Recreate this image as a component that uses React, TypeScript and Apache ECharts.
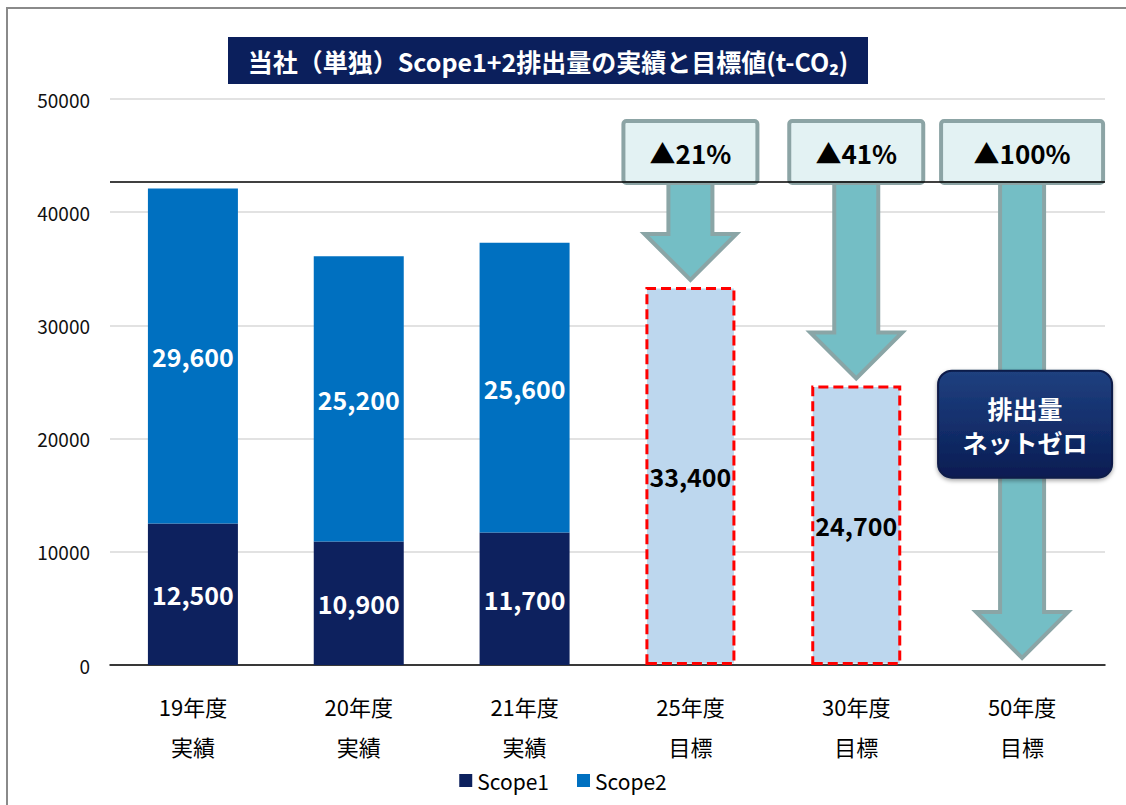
import React, { useEffect, useRef } from "react";
import * as echarts from "echarts";

const categories = ["19年度\n実績", "20年度\n実績", "21年度\n実績", "25年度\n目標", "30年度\n目標", "50年度\n目標"];
const scope1 = [12500, 10900, 11700, null, null, null];
const scope2 = [29600, 25200, 25600, null, null, null];
const targets = [null, null, null, 33400, 24700, null];
const reductionIndex = [3, 4, 5];
const reductionValue = [33400, 24700, 0];
const reductionLabels = ["▲21%", "▲41%", "▲100%"];
const referenceLine = 42700;
const yTicks = { min: 0, max: 50000, interval: 10000 };
const titleText = "当社（単独）Scope1+2排出量の実績と目標値(t-CO₂)";
const netZeroText = "排出量\nネットゼロ";

const FONT = "'Noto Sans CJK JP', 'Noto Sans', sans-serif";

export default function App() {
  const ref = useRef<HTMLDivElement>(null);
  useEffect(() => {
    if (!ref.current) return;
    const chart = echarts.init(ref.current, null, { renderer: "svg" });
    const fmt = (p: any) => (p.value == null ? "" : Number(p.value).toLocaleString("en-US"));
    const customData = reductionIndex.map((c, i) => [c, reductionValue[i], i]);
    chart.setOption({
      animation: false,
      textStyle: { fontFamily: FONT },
      grid: { left: 110, right: 21, top: 99, bottom: 140, containLabel: false },
      legend: {
        data: ["Scope1", "Scope2"],
        bottom: 9,
        left: "center",
        icon: "rect",
        itemWidth: 13,
        itemHeight: 13,
        itemGap: 28,
        textStyle: { fontSize: 21, color: "#000", fontFamily: FONT },
      },
      xAxis: {
        type: "category",
        data: categories,
        axisLine: { lineStyle: { color: "#000", width: 1.5 } },
        axisTick: { show: false },
        axisLabel: { fontSize: 22, lineHeight: 40, color: "#000", margin: 21, fontFamily: FONT },
      },
      yAxis: {
        type: "value",
        min: yTicks.min,
        max: yTicks.max,
        interval: yTicks.interval,
        axisLine: { show: false },
        axisTick: { show: false },
        axisLabel: { fontSize: 19, color: "#111", margin: 20, fontFamily: FONT, formatter: (v: number) => String(v) },
        splitLine: { lineStyle: { color: "#D9D9D9", width: 1.5 } },
      },
      series: [
        {
          name: "Scope1",
          type: "bar",
          stack: "total",
          barWidth: 90,
          data: scope1,
          itemStyle: { color: "#0D215E" },
          label: { show: true, position: "inside", color: "#fff", fontSize: 25, fontWeight: "bold", formatter: fmt, fontFamily: FONT },
          z: 2,
        },
        {
          name: "Scope2",
          type: "bar",
          stack: "total",
          barWidth: 90,
          data: scope2,
          itemStyle: { color: "#0070C0" },
          label: { show: true, position: "inside", color: "#fff", fontSize: 25, fontWeight: "bold", formatter: fmt, fontFamily: FONT },
          z: 2,
        },
        {
          name: "目標",
          type: "bar",
          stack: "total",
          barWidth: 90,
          data: targets,
          itemStyle: { color: "#BDD7EE", borderColor: "#FF0000", borderWidth: 3, borderType: [10, 5] },
          label: { show: true, position: "inside", color: "#000", fontSize: 25, fontWeight: "bold", formatter: fmt, fontFamily: FONT },
          z: 2,
        },
        {
          name: "削減",
          type: "custom",
          data: customData,
          clip: false,
          z: 3,
          renderItem: (params: any, api: any) => {
            const idx = api.value(0);
            const val = api.value(1);
            const k = api.value(2);
            const pt = api.coord([idx, val]);
            const cx = pt[0];
            const tipY = pt[1] - 7;
            const top = api.coord([idx, yTicks.max])[1];
            const boxTop = top + 22;
            const boxH = 62;
            const boxBottom = boxTop + boxH;
            const label = reductionLabels[k];
            const boxW = label.length > 4 ? 162 : 134;
            const headH = 46, headHalf = 46, shaftHalf = 22;
            const children: any[] = [
              {
                type: "polygon",
                shape: {
                  points: [
                    [cx - shaftHalf, boxBottom - 4],
                    [cx + shaftHalf, boxBottom - 4],
                    [cx + shaftHalf, tipY - headH],
                    [cx + headHalf, tipY - headH],
                    [cx, tipY],
                    [cx - headHalf, tipY - headH],
                    [cx - shaftHalf, tipY - headH],
                  ],
                },
                style: { fill: "#74BEC5", stroke: "#8AA5A6", lineWidth: 4, lineJoin: "miter" },
              },
              {
                type: "rect",
                shape: { x: cx - boxW / 2, y: boxTop, width: boxW, height: boxH, r: 3 },
                style: { fill: "#E3F2F3", stroke: "#8CA4A5", lineWidth: 4 },
              },
              {
                type: "text",
                style: {
                  x: cx,
                  y: boxTop + boxH / 2,
                  text: label,
                  fill: "#000",
                  font: `bold 26px ${FONT}`,
                  align: "center",
                  verticalAlign: "middle",
                },
              },
            ];
            if (k === reductionLabels.length - 1) {
              const bx = cx + 3;
              const by = api.coord([idx, 26000])[1];
              const bw = 174, bh = 107;
              children.push({
                type: "rect",
                shape: { x: bx - bw / 2, y: by, width: bw, height: bh, r: 14 },
                style: {
                  fill: new echarts.graphic.LinearGradient(0, 0, 0, 1, [
                    { offset: 0, color: "#20407F" },
                    { offset: 0.5, color: "#132F6C" },
                    { offset: 1, color: "#0A1C52" },
                  ]),
                  stroke: "#0A1A48",
                  lineWidth: 2,
                  shadowBlur: 4,
                  shadowColor: "rgba(0,0,0,0.35)",
                  shadowOffsetY: 2,
                },
              });
              children.push({
                type: "text",
                style: {
                  x: bx,
                  y: by + bh / 2 + 1,
                  text: netZeroText,
                  fill: "#fff",
                  font: `bold 25px ${FONT}`,
                  lineHeight: 34,
                  align: "center",
                  verticalAlign: "middle",
                },
              });
            }
            return { type: "group", children };
          },
        },
        {
          name: "基準線",
          type: "line",
          data: categories.map(() => null),
          symbol: "none",
          silent: true,
          z: 5,
          markLine: {
            silent: true,
            symbol: "none",
            label: { show: false },
            lineStyle: { color: "#000", width: 1.5, type: "solid" },
            data: [{ yAxis: referenceLine }],
          },
        },
      ],
      graphic: [
        {
          type: "rect",
          shape: { x: 7, y: 8, width: 1300, height: 900 },
          style: { fill: "none", stroke: "#8A8A8A", lineWidth: 2 },
          silent: true,
        },
        {
          type: "rect",
          shape: { x: 228, y: 37, width: 640, height: 47 },
          style: { fill: "#0B1F5C" },
        },
        {
          type: "text",
          style: {
            x: 548,
            y: 61,
            text: titleText,
            fill: "#fff",
            font: `bold 25px ${FONT}`,
            align: "center",
            verticalAlign: "middle",
          },
        },
      ],
    });
    return () => chart.dispose();
  }, []);
  return <div ref={ref} style={{ position: "absolute", left: 0, top: 0, width: 1126, height: 805 }} />;
}
